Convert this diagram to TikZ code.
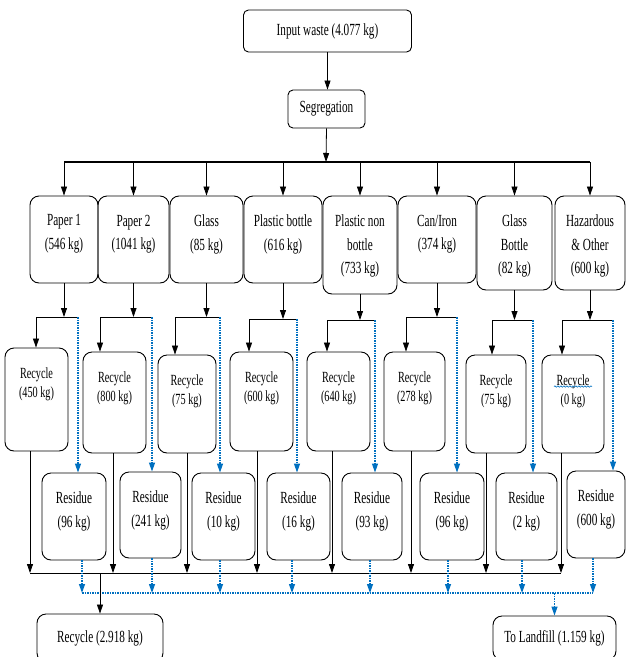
\documentclass[tikz,border=0pt]{standalone}
\usepackage{fontspec}
\setmainfont{Liberation Serif}[FakeStretch=0.66]
\usetikzlibrary{positioning,arrows.meta,decorations.pathmorphing}
\definecolor{flowblue}{RGB}{0,112,192}
\tikzset{
  box/.style={draw, line width=0.9pt, rounded corners=9pt, inner sep=0pt},
  txt/.style={align=center, inner sep=0pt, font=\fontsize{17}{23.5}\selectfont},
  small/.style={align=center, inner sep=0pt, font=\fontsize{15.5}{19}\selectfont},
  fwd/.style={-{Triangle[length=9pt,width=6pt]}, line width=0.8pt},
  res/.style={flowblue, line width=1.2pt, dash pattern=on 1.5pt off 1pt},
  resarr/.style={res, -{Triangle[length=9pt,width=6pt]}}
}

\begin{document}
\begin{tikzpicture}[x=1pt, y=-1pt]
\useasboundingbox (0,0) rectangle (626,657);
\clip (0,0) rectangle (626,657);

% top
\node[box, txt, rounded corners=5pt, minimum width=168pt, minimum height=42pt] (inp) at (327.5,31) {Input waste (4.077 kg)};
\node[box, txt, rounded corners=5pt, minimum width=77pt, minimum height=38pt] (seg) at (326.5,109) {Segregation};
\draw[fwd] (inp.south) -- (inp.south |- seg.north);
\coordinate (top) at (326,162);
\draw[fwd] (seg.south) -- (top);

% categories
\node[box, minimum width=68pt, minimum height=87pt] (p1) at (64,239.5) {};
\node[box, minimum width=71pt, minimum height=87pt] (p2) at (133.5,239.5) {};
\node[box, minimum width=73pt, minimum height=87pt] (p3) at (206.5,239.5) {};
\node[box, minimum width=78pt, minimum height=87pt] (p4) at (283,239.5) {};
\node[box, minimum width=74pt, minimum height=98pt] (p5) at (360,245) {};
\node[box, minimum width=78pt, minimum height=87pt] (p6) at (437,239.5) {};
\node[box, minimum width=75pt, minimum height=94pt] (p7) at (514.5,243) {};
\node[box, minimum width=70pt, minimum height=94pt] (p8) at (590,243) {};
\node[txt, below=19pt of p1.north] (p1l) {Paper 1\\(546 kg)};
\node[txt, below=19pt of p2.north] (p2l) {Paper 2\\(1041 kg)};
\node[txt, below=19pt of p3.north] (p3l) {Glass\\(85 kg)};
\node[txt, below=19pt of p4.north] (p4l) {Plastic bottle\\(616 kg)};
\node[txt, below=19pt of p5.north] (p5l) {Plastic non\\bottle\\(733 kg)};
\node[txt, below=19pt of p6.north] (p6l) {Can/Iron\\(374 kg)};
\node[txt, below=19pt of p7.north] (p7l) {Glass\\Bottle\\(82 kg)};
\node[txt, below=19pt of p8.north] (p8l) {Hazardous\\\& Other\\(600 kg)};

\draw[line width=1.2pt] (p1.north |- top) -- (p8.north |- top);
\draw[fwd] (p1.north |- top) -- (p1.north);
\draw[fwd] (p2.north |- top) -- (p2.north);
\draw[fwd] (p3.north |- top) -- (p3.north);
\draw[fwd] (p4.north |- top) -- (p4.north);
\draw[fwd] (p5.north |- top) -- (p5.north);
\draw[fwd] (p6.north |- top) -- (p6.north);
\draw[fwd] (p7.north |- top) -- (p7.north);
\draw[fwd] (p8.north |- top) -- (p8.north);

% recycle boxes
\node[box, minimum width=63pt, minimum height=103pt] (r1) at (36.5,399.5) {};
\node[box, minimum width=63pt, minimum height=101pt] (r2) at (114.5,402.5) {};
\node[box, minimum width=58pt, minimum height=98pt] (r3) at (187,404) {};
\node[box, minimum width=63pt, minimum height=99pt] (r4) at (261.5,401.5) {};
\node[box, minimum width=63pt, minimum height=99pt] (r5) at (338.5,401.5) {};
\node[box, minimum width=61pt, minimum height=99pt] (r6) at (414.5,401.5) {};
\node[box, minimum width=60pt, minimum height=98pt] (r7) at (496,404) {};
\node[box, minimum width=62pt, minimum height=98pt] (r8) at (573,404) {};
\node[small, below=20pt of r1.north] (r1l) {Recycle\\(450 kg)};
\node[small, below=20pt of r2.north] (r2l) {Recycle\\(800 kg)};
\node[small, below=20pt of r3.north] (r3l) {Recycle\\(75 kg)};
\node[small, below=20pt of r4.north] (r4l) {Recycle\\(600 kg)};
\node[small, below=20pt of r5.north] (r5l) {Recycle\\(640 kg)};
\node[small, below=20pt of r6.north] (r6l) {Recycle\\(278 kg)};
\node[small, below=20pt of r7.north] (r7l) {Recycle\\(75 kg)};
\node[small, below=20pt of r8.north] (r8l) {Recycle\\(0 kg)};
\draw[flowblue, line width=0.6pt, decorate, decoration={snake, amplitude=0.7pt, segment length=3pt}]
  ([xshift=-19pt, yshift=-12pt]r8l.north) -- ([xshift=19pt, yshift=-12pt]r8l.north);

% residue boxes
\node[box, minimum width=64pt, minimum height=87pt] (s1) at (74,516.5) {};
\node[box, minimum width=61pt, minimum height=86pt] (s2) at (150.5,515) {};
\node[box, minimum width=63pt, minimum height=87pt] (s3) at (223.5,516.5) {};
\node[box, minimum width=63pt, minimum height=87pt] (s4) at (298.5,516.5) {};
\node[box, minimum width=60pt, minimum height=87pt] (s5) at (372,516.5) {};
\node[box, minimum width=64pt, minimum height=87pt] (s6) at (452,516.5) {};
\node[box, minimum width=61pt, minimum height=87pt] (s7) at (526.5,516.5) {};
\node[box, minimum width=58pt, minimum height=87pt] (s8) at (596,514.5) {};
\node[txt, below=19pt of s1.north] (s1l) {Residue\\(96 kg)};
\node[txt, below=19pt of s2.north] (s2l) {Residue\\(241 kg)};
\node[txt, below=19pt of s3.north] (s3l) {Residue\\(10 kg)};
\node[txt, below=19pt of s4.north] (s4l) {Residue\\(16 kg)};
\node[txt, below=19pt of s5.north] (s5l) {Residue\\(93 kg)};
\node[txt, below=19pt of s6.north] (s6l) {Residue\\(96 kg)};
\node[txt, below=19pt of s7.north] (s7l) {Residue\\(2 kg)};
\node[txt, below=19pt of s8.north] (s8l) {Residue\\(600 kg)};

% split under each category
\coordinate (a1) at (36,317);  \coordinate (b1) at (78,317);
\coordinate (a2) at (100,317); \coordinate (b2) at (152,317);
\coordinate (a3) at (175,317); \coordinate (b3) at (220,317);
\coordinate (a4) at (249,319); \coordinate (b4) at (297,319);
\coordinate (a5) at (327,320); \coordinate (b5) at (375,320);
\coordinate (a6) at (406,317); \coordinate (b6) at (457,317);
\coordinate (a7) at (492,320); \coordinate (b7) at (533,320);
\coordinate (a8) at (562,320); \coordinate (b8) at (613,320);
\draw[fwd] (p1.south) -- (p1.south |- a1);
\draw[fwd] (p2.south) -- (p2.south |- a2);
\draw[fwd] (p3.south) -- (p3.south |- a3);
\draw[fwd] (p4.south) -- (p4.south |- a4);
\draw[fwd] (p5.south) -- (p5.south |- a5);
\draw[fwd] (p6.south) -- (p6.south |- a6);
\draw[fwd] (p7.south) -- (p7.south |- a7);
\draw[fwd] (p8.south) -- (p8.south |- a8);
\draw[line width=0.9pt] (a1) -- (b1);
\draw[line width=0.9pt] (a2) -- (b2);
\draw[line width=0.9pt] (a3) -- (b3);
\draw[line width=0.9pt] (a4) -- (b4);
\draw[line width=0.9pt] (a5) -- (b5);
\draw[line width=0.9pt] (a6) -- (b6);
\draw[line width=0.9pt] (a7) -- (b7);
\draw[line width=0.9pt] (a8) -- (b8);
\draw[fwd] (a1) -- (a1 |- r1.north);
\draw[fwd] (a2) -- (a2 |- r2.north);
\draw[fwd] (a3) -- (a3 |- r3.north);
\draw[fwd] (a4) -- (a4 |- r4.north);
\draw[fwd] (a5) -- (a5 |- r5.north);
\draw[fwd] (a6) -- (a6 |- r6.north);
\draw[fwd] (a7) -- (a7 |- r7.north);
\draw[fwd] (a8) -- (a8 |- r8.north);
\draw[resarr] (b1) -- (b1 |- s1.north);
\draw[resarr] (b2) -- (b2 |- s2.north);
\draw[resarr] (b3) -- (b3 |- s3.north);
\draw[resarr] (b4) -- (b4 |- s4.north);
\draw[resarr] (b5) -- (b5 |- s5.north);
\draw[resarr] (b6) -- (b6 |- s6.north);
\draw[resarr] (b7) -- (b7 |- s7.north);
\draw[resarr] (b8) -- (b8 |- s8.north);

% collecting lines
\coordinate (k1) at (30,573);  \coordinate (k2) at (113,573);
\coordinate (k3) at (187,573); \coordinate (k4) at (257,573);
\coordinate (k5) at (332,573); \coordinate (k6) at (411,573);
\coordinate (k7) at (486,573); \coordinate (k8) at (561,573);
\draw[fwd] (k1 |- r1.south) -- (k1);
\draw[fwd] (k2 |- r2.south) -- (k2);
\draw[fwd] (k3 |- r3.south) -- (k3);
\draw[fwd] (k4 |- r4.south) -- (k4);
\draw[fwd] (k5 |- r5.south) -- (k5);
\draw[fwd] (k6 |- r6.south) -- (k6);
\draw[fwd] (k7 |- r7.south) -- (k7);
\draw[fwd] (k8 |- r8.south) -- (k8);
\draw[line width=0.9pt] (k1) -- (k8);

\coordinate (d1) at (82,593);  \coordinate (d2) at (152,593);
\coordinate (d3) at (220,593); \coordinate (d4) at (292,593);
\coordinate (d5) at (370,593); \coordinate (d6) at (448,593);
\coordinate (d7) at (522,593); \coordinate (d8) at (593,593);
\draw[resarr] (d1 |- s1.south) -- (d1);
\draw[resarr] (d2 |- s2.south) -- (d2);
\draw[resarr] (d3 |- s3.south) -- (d3);
\draw[resarr] (d4 |- s4.south) -- (d4);
\draw[resarr] (d5 |- s5.south) -- (d5);
\draw[resarr] (d6 |- s6.south) -- (d6);
\draw[resarr] (d7 |- s7.south) -- (d7);
\draw[resarr] (d8 |- s8.south) -- (d8);
\draw[res] (d1) -- (d8);

% totals
\node[box, txt, minimum width=126pt, minimum height=48pt] (tot) at (100,638) {Recycle (2.918 kg)};
\node[box, txt, minimum width=123pt, minimum height=44pt] (fill) at (554.5,638) {To Landfill (1.159 kg)};
\draw[fwd] (tot.north |- k1) -- (tot.north);
\draw[resarr] (fill.north |- d1) -- (fill.north);
\end{tikzpicture}
\end{document}
